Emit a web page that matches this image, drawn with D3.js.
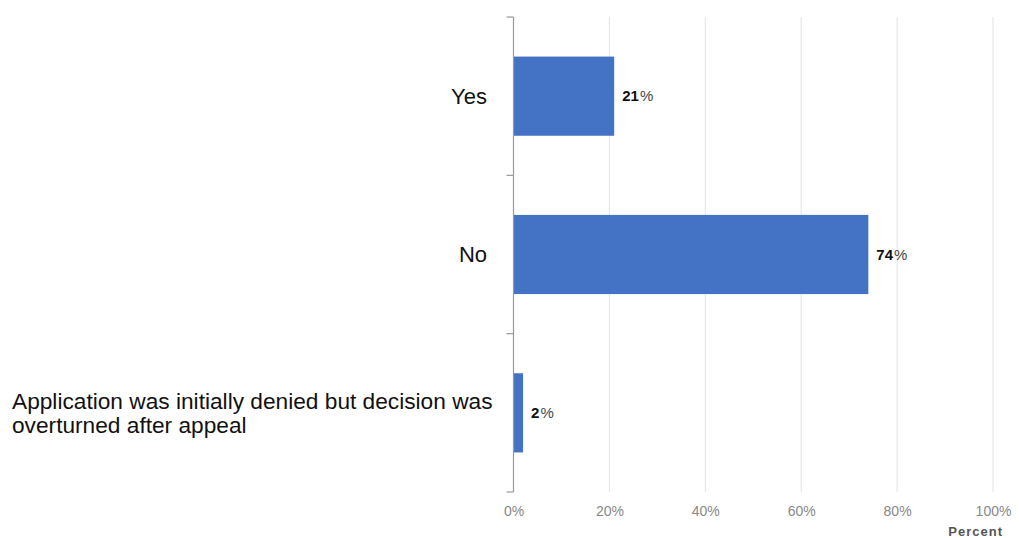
<!DOCTYPE html>
<html>
<head>
<meta charset="utf-8">
<script src="https://cdn.jsdelivr.net/npm/d3@7"></script>
<style>
  html, body { margin: 0; padding: 0; background: #fff; }
  svg { display: block; font-family: "Liberation Sans", Arial, sans-serif; }
</style>
</head>
<body>
<svg id="chart" width="1019" height="538"></svg>
<script>
// Responses and their shares
const categories = ["Yes", "No", "Application was initially denied but decision was overturned after appeal"];
const categoryLines = [["Yes"], ["No"], ["Application was initially denied but decision was", "overturned after appeal"]];
const values = [21, 74, 2];
const tickValues = [0, 20, 40, 60, 80, 100];
const axisTitle = "Percent";

const svg = d3.select("#chart");
const plot = { left: 513.5, right: 993, top: 17, bottom: 492 };

const x = d3.scaleLinear().domain([0, 100]).range([plot.left, plot.right]);
const y = d3.scaleBand().domain(categories).range([plot.top, plot.bottom]).paddingInner(0.5).paddingOuter(0.25);

// vertical gridlines
svg.append("g")
  .selectAll("line")
  .data(tickValues.filter(d => d > 0))
  .join("line")
  .attr("x1", d => x(d)).attr("x2", d => x(d))
  .attr("y1", plot.top).attr("y2", plot.bottom)
  .attr("stroke", "#e3e3e3").attr("stroke-width", 1);

// x axis tick labels
const xAxis = d3.axisBottom(x).tickValues(tickValues).tickFormat(d => d + "%").tickSize(0).tickPadding(14);
const gx = svg.append("g").attr("transform", `translate(0,${plot.bottom})`).call(xAxis);
gx.select(".domain").remove();
gx.selectAll("text").attr("fill", "#888").attr("font-size", 14)
  .attr("font-family", "'Liberation Sans', Arial, sans-serif");

// axis title
svg.append("text")
  .attr("x", 1003).attr("y", 536)
  .attr("text-anchor", "end")
  .attr("font-size", 13).attr("font-weight", "bold")
  .attr("fill", "#555").attr("letter-spacing", 1)
  .text(axisTitle);

// bars
svg.append("g")
  .selectAll("rect")
  .data(values)
  .join("rect")
  .attr("x", x(0))
  .attr("y", (d, i) => y(categories[i]))
  .attr("width", d => x(d) - x(0))
  .attr("height", y.bandwidth())
  .attr("fill", "#4472c4");

// value labels
const vl = svg.append("g")
  .selectAll("text")
  .data(values)
  .join("text")
  .attr("x", d => x(d) + 8)
  .attr("y", (d, i) => y(categories[i]) + y.bandwidth() / 2)
  .attr("dy", "0.35em")
  .attr("font-size", 15)
  .attr("fill", "#111");
vl.append("tspan").attr("font-weight", "bold").text(d => d);
vl.append("tspan").attr("fill", "#444").attr("dx", 1).text("%");

// y axis line with band boundary ticks
const yAxisG = svg.append("g");
yAxisG.append("line")
  .attr("x1", plot.left).attr("x2", plot.left)
  .attr("y1", plot.top).attr("y2", plot.bottom)
  .attr("stroke", "#999").attr("stroke-width", 1.2);
const step = (plot.bottom - plot.top) / categories.length;
yAxisG.selectAll("line.tick")
  .data(d3.range(categories.length + 1))
  .join("line")
  .attr("class", "tick")
  .attr("x1", plot.left - 7).attr("x2", plot.left)
  .attr("y1", i => plot.top + i * step).attr("y2", i => plot.top + i * step)
  .attr("stroke", "#999").attr("stroke-width", 1.2);

// category labels
const lineH = 24;
categoryLines.forEach((lines, i) => {
  const cy = y(categories[i]) + y.bandwidth() / 2;
  const multi = lines.length > 1;
  const t = svg.append("text")
    .attr("font-size", multi ? 22.7 : 22)
    .attr("fill", "#111")
    .attr("text-anchor", multi ? "start" : "end");
  lines.forEach((ln, j) => {
    t.append("tspan")
      .attr("x", multi ? 12 : 487)
      .attr("y", cy + (j - (lines.length - 1) / 2) * lineH)
      .attr("dy", "0.35em")
      .text(ln);
  });
});
</script>
</body>
</html>
